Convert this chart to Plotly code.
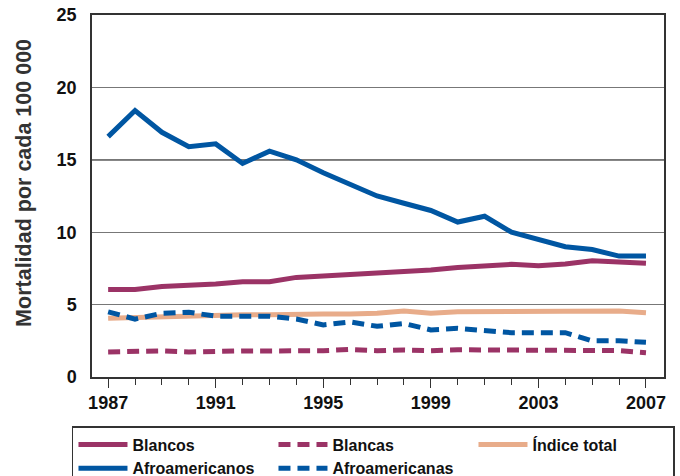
import plotly.graph_objects as go

years = list(range(1987, 2008))

afroamericanos = [16.6, 18.4, 16.9, 15.9, 16.1, 14.75, 15.6, 15.0, 14.1, 13.3, 12.5,
                  12.0, 11.5, 10.7, 11.1, 10.0, 9.5, 9.0, 8.8, 8.35, 8.35]
blancos = [6.05, 6.05, 6.25, 6.33, 6.42, 6.58, 6.58, 6.88, 6.98, 7.1, 7.15,
           7.27, 7.39, 7.57, 7.69, 7.78, 7.68, 7.8, 8.03, 7.9, 7.85]
indice_total = [4.05, 4.1, 4.2, 4.25, 4.25, 4.3, 4.3, 4.35, 4.35, 4.35, 4.4,
                4.55, 4.4, 4.5, 4.5, 4.5, 4.5, 4.5, 4.5, 4.55, 4.43]
afroamericanas = [4.5, 4.0, 4.4, 4.47, 4.2, 4.2, 4.2, 4.0, 3.6, 3.8, 3.5,
                  3.7, 3.25, 3.36, 3.2, 3.06, 3.06, 3.06, 2.5, 2.5, 2.4]
blancas = [1.73, 1.8, 1.8, 1.73, 1.8, 1.8, 1.8, 1.8, 1.82, 1.9, 1.82,
           1.86, 1.82, 1.88, 1.86, 1.82, 1.88, 1.82, 1.82, 1.82, 1.68]

y_ticks = [0, 5, 10, 15, 20, 25]
x_ticks = [1987, 1991, 1995, 1999, 2003, 2007]
y_title = "Mortalidad por cada 100 000"

BLUE = "#0056A2"
MAROON = "#9B3366"
PEACH = "#E8AC8A"
FONT = "Liberation Sans"

series = [
    ("Índice total", indice_total, PEACH, "solid", 3),
    ("Blancas", blancas, MAROON, "12px,7px", 2),
    ("Afroamericanas", afroamericanas, BLUE, "12px,7px", 5),
    ("Blancos", blancos, MAROON, "solid", 1),
    ("Afroamericanos", afroamericanos, BLUE, "solid", 4),
]

fig = go.Figure()
for name, vals, color, dash, rank in series:
    fig.add_trace(go.Scatter(x=years, y=vals, name=name, mode="lines",
                             legendrank=rank,
                             line=dict(color=color, width=5, dash=dash)))

fig.update_layout(
    width=680, height=476,
    margin=dict(l=92, r=16, t=15, b=99, autoexpand=False),
    paper_bgcolor="white", plot_bgcolor="white",
    font=dict(family=FONT, color="#111"),
    showlegend=True,
    legend=dict(
        orientation="h", x=-0.035, xanchor="left", y=-0.1354, yanchor="top",
        bordercolor="#333", borderwidth=1.5,
        font=dict(family=FONT, size=16, color="#111", weight="bold"),
        entrywidth=136, entrywidthmode="pixels",
        traceorder="normal", itemwidth=49,
    ),
    xaxis=dict(
        range=[1986.4, 2007.67],
        tickvals=x_ticks, ticktext=[str(v) for v in x_ticks],
        ticks="outside", ticklen=9, tickwidth=1.2, tickcolor="#333",
        minor=dict(dtick=1, tick0=1987, ticks="outside", ticklen=6, tickcolor="#333", tickwidth=1.2),
        showgrid=False, zeroline=False,
        showline=True, linecolor="#333", linewidth=1.5, mirror=True,
        tickfont=dict(family=FONT, size=18, color="#111", weight="bold"),
    ),
    yaxis=dict(
        range=[0, 25], tickvals=y_ticks,
        ticks="outside", ticklen=10, tickcolor="rgba(0,0,0,0)",
        ticklabeloverflow="allow",
        showgrid=True, gridcolor="#777", gridwidth=1.3,
        zeroline=False,
        showline=True, linecolor="#333", linewidth=1.5, mirror=True,
        tickfont=dict(family=FONT, size=18, color="#111", weight="bold"),
    ),
)

fig.add_annotation(text=y_title, textangle=-90, xref="paper", yref="paper",
                   x=-0.119, y=0.536, xanchor="center", yanchor="middle",
                   showarrow=False,
                   font=dict(family=FONT, size=21.5, color="#333", weight="bold"))

fig.add_hline(y=15, line=dict(color="#111", width=1.3), layer="below")

fig.write_html("out.html", config={"displayModeBar": False},
               post_script="document.body.style.margin='0';")
